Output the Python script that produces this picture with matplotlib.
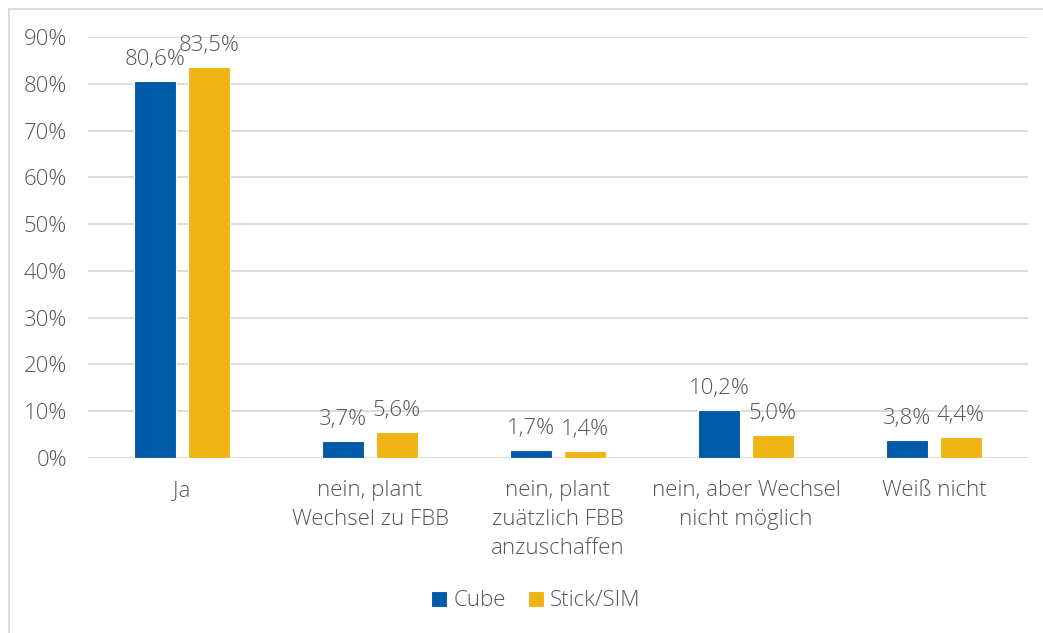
import matplotlib
matplotlib.use("Agg")
import matplotlib.pyplot as plt
from matplotlib.lines import Line2D
import numpy as np

categories = ["Ja", "nein, plant\nWechsel zu FBB", "nein, plant\nzuätzlich FBB\nanzuschaffen",
              "nein, aber Wechsel\nnicht möglich", "Weiß nicht"]
cube = [80.6, 3.7, 1.7, 10.2, 3.8]
stick = [83.5, 5.6, 1.4, 5.0, 4.4]
series_names = ["Cube", "Stick/SIM"]
yticks = [0, 10, 20, 30, 40, 50, 60, 70, 80, 90]

plt.rcParams['font.family'] = ['Open Sans', 'DejaVu Sans']
plt.rcParams['font.weight'] = 'light'
text_color = "#555555"
c_blue = "#005AAA"
c_yellow = "#F0B314"
FS = 16

fig = plt.figure(figsize=(10.43, 6.33), dpi=100)
ax = fig.add_axes([88/1043, 1-458/633, 940/1043, (458-37)/633])

x = np.arange(len(categories))
w = 0.225
off = 0.142
b1 = ax.bar(x - off, cube, w, color=c_blue, edgecolor="white", linewidth=0.8, label=series_names[0], zorder=3)
b2 = ax.bar(x + off, stick, w, color=c_yellow, edgecolor="white", linewidth=0.8, label=series_names[1], zorder=3)

def fmt(v):
    return f"{v:.1f}".replace(".", ",") + "%"

for bars, vals in ((b1, cube), (b2, stick)):
    for r, v in zip(bars, vals):
        ax.annotate(fmt(v), (r.get_x() + r.get_width()/2, v), xytext=(0, 8), textcoords="offset points",
                    ha="center", va="bottom", fontsize=FS, color=text_color)

ax.set_xlim(-0.5, len(categories) - 0.5)
ax.set_ylim(0, 90)
ax.set_yticks(yticks)
ax.set_yticklabels([f"{t}%" for t in yticks])
ax.set_xticks(x)
ax.set_xticklabels(categories, linespacing=1.5)
ax.tick_params(axis="both", length=0, labelsize=FS, colors=text_color)
ax.tick_params(axis="y", pad=15)
ax.tick_params(axis="x", pad=16)
ax.grid(axis="y", color="#D9D9D9", linewidth=1.3, zorder=0)
for s in ax.spines.values():
    s.set_visible(False)

leg = ax.legend(loc="center", bbox_to_anchor=(536/1043, 1-601/633), bbox_transform=fig.transFigure,
                ncol=2, frameon=False, fontsize=FS, handlelength=0.7, handleheight=0.7,
                handletextpad=0.3, columnspacing=1.0, labelcolor=text_color)

# outer chart frame (left and top visible)
fig.add_artist(Line2D([8.5/1043, 8.5/1043], [0, 1-8.5/633], transform=fig.transFigure, color="#D9D9D9", linewidth=1.3))
fig.add_artist(Line2D([8.5/1043, 1], [1-8.5/633, 1-8.5/633], transform=fig.transFigure, color="#D9D9D9", linewidth=1.3))

fig.savefig("out.png", dpi=100)
